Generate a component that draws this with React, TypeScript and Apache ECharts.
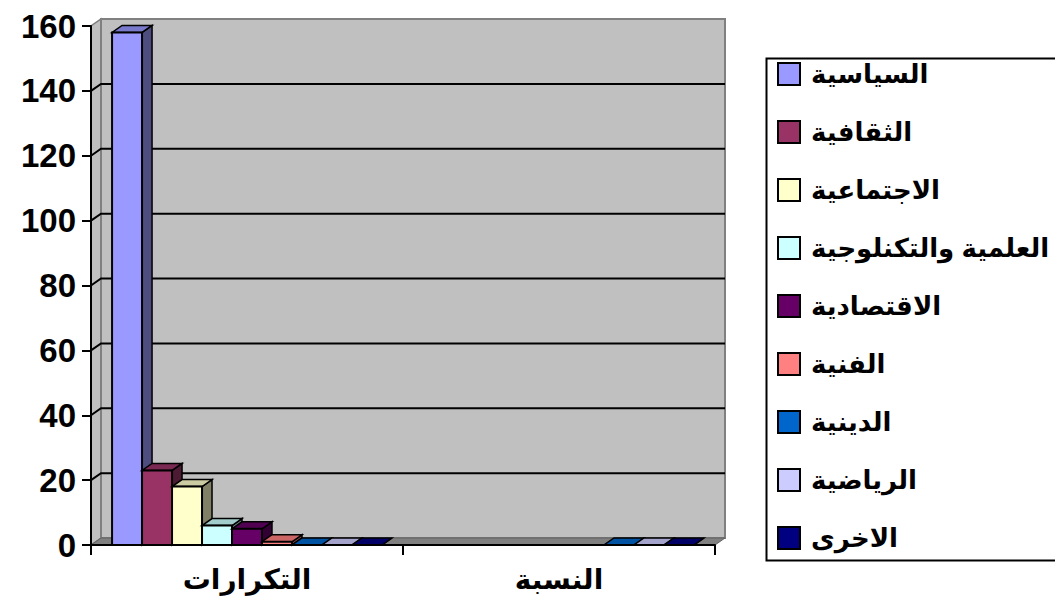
import React, { useEffect, useRef } from "react";
import * as echarts from "echarts";

const categories = ["التكرارات", "النسبة"];
const seriesNames = [
  "السياسية",
  "الثقافية",
  "الاجتماعية",
  "العلمية والتكنلوجية",
  "الاقتصادية",
  "الفنية",
  "الدينية",
  "الرياضية",
  "الاخرى",
];
const frequencies = [158, 23, 18, 6, 5, 1, 0, 0, 0];
const percentages: (number | null)[] = [null, null, null, null, null, null, 0, 0, 0];
const colors = ["#9999FF", "#993366", "#FFFFCC", "#CCFFFF", "#660066", "#FF8080", "#0066CC", "#CCCCFF", "#000080"];
const yTicks = [0, 20, 40, 60, 80, 100, 120, 140, 160];

const DX = 10;
const DY = -7;
const FONT = "Arial, 'Liberation Sans', 'DejaVu Sans', sans-serif";

function shade(hex: string, f: number) {
  const n = parseInt(hex.slice(1), 16);
  const r = Math.round(((n >> 16) & 255) * f);
  const g = Math.round(((n >> 8) & 255) * f);
  const b = Math.round((n & 255) * f);
  return `rgb(${r},${g},${b})`;
}

export default function App() {
  const ref = useRef<HTMLDivElement>(null);
  useEffect(() => {
    if (!ref.current) return;
    const chart = echarts.init(ref.current, null, { renderer: "svg" });
    const n = seriesNames.length;

    const wallSeries: any = {
      type: "custom",
      name: "__wall",
      z: 1,
      silent: true,
      data: [[0, 0]],
      renderItem: (params: any, api: any) => {
        const cs = params.coordSys;
        const left = cs.x;
        const right = cs.x + cs.width;
        const top = cs.y;
        const bottom = cs.y + cs.height;
        const children: any[] = [];
        children.push({
          type: "polygon",
          shape: { points: [[left, bottom], [left, top], [left + DX, top + DY], [left + DX, bottom + DY]] },
          style: { fill: "#C0C0C0", stroke: "#808080", lineWidth: 1.5 },
        });
        children.push({
          type: "rect",
          shape: { x: left + DX, y: top + DY, width: right - left, height: bottom - top },
          style: { fill: "#C0C0C0", stroke: "#808080", lineWidth: 2 },
        });
        children.push({
          type: "polygon",
          shape: { points: [[left, bottom], [right, bottom], [right + DX, bottom + DY], [left + DX, bottom + DY]] },
          style: { fill: "#808080", stroke: "#606060", lineWidth: 1 },
        });
        yTicks.forEach((t) => {
          if (t === 0 || t === yTicks[yTicks.length - 1]) return;
          const y = api.coord([0, t])[1];
          children.push({
            type: "polyline",
            shape: { points: [[left, y], [left + DX, y + DY], [right + DX, y + DY]] },
            style: { stroke: "#000", lineWidth: 2, fill: "none" },
          });
        });
        return { type: "group", children };
      },
    };

    const barSeries = seriesNames.map((name, i) => {
      const data: any[] = [];
      if (frequencies[i] !== null) data.push([0, frequencies[i]]);
      if (percentages[i] !== null) data.push([1, percentages[i]]);
      return {
        type: "custom",
        name,
        z: 3 + i,
        itemStyle: { color: colors[i] },
        data,
        renderItem: (params: any, api: any) => {
          const cat = api.value(0);
          const v = api.value(1);
          if (v === null || v === undefined || isNaN(v)) return null;
          const base = api.coord([cat, 0]);
          const tp = api.coord([cat, v]);
          const band = api.size([1, 0])[0];
          const bw = (band * 0.865) / n;
          const x0 = base[0] - (bw * n) / 2 + i * bw;
          const x1 = x0 + bw;
          const yb = base[1];
          const yt = tp[1];
          const c = colors[i];
          return {
            type: "group",
            children: [
              {
                type: "polygon",
                shape: { points: [[x1, yt], [x1 + DX, yt + DY], [x1 + DX, yb + DY], [x1, yb]] },
                style: { fill: shade(c, 0.5), stroke: "#000", lineWidth: 1.5 },
              },
              {
                type: "polygon",
                shape: { points: [[x0, yt], [x1, yt], [x1 + DX, yt + DY], [x0 + DX, yt + DY]] },
                style: { fill: shade(c, 0.8), stroke: "#000", lineWidth: 1.5 },
              },
              {
                type: "rect",
                shape: { x: x0, y: yt, width: bw, height: yb - yt },
                style: { fill: c, stroke: "#000", lineWidth: 2 },
              },
            ],
          };
        },
      };
    });

    chart.setOption({
      animation: false,
      backgroundColor: "#FFFFFF",
      grid: { left: 91, right: 340, top: 26, bottom: 57, containLabel: false },
      xAxis: {
        type: "category",
        data: categories,
        z: 20,
        axisLine: { show: true, lineStyle: { color: "#000", width: 2 } },
        axisTick: { show: true, length: 10, lineStyle: { color: "#000", width: 2 } },
        axisLabel: { fontSize: 28, fontWeight: "bold", color: "#000", fontFamily: FONT, margin: 20 },
        splitLine: { show: false },
      },
      yAxis: {
        type: "value",
        min: 0,
        max: 160,
        interval: 20,
        z: 20,
        axisLine: { show: true, lineStyle: { color: "#000", width: 2 } },
        axisTick: { show: true, length: 9, lineStyle: { color: "#000", width: 2 } },
        axisLabel: { fontSize: 33, fontWeight: "bold", color: "#000", fontFamily: FONT, margin: 15 },
        splitLine: { show: false },
      },
      legend: {
        orient: "vertical",
        left: 777,
        top: 61,
        padding: 0,
        itemWidth: 22,
        itemHeight: 22,
        itemGap: 32,
        icon: "rect",
        data: seriesNames,
        selectedMode: false,
        itemStyle: { borderColor: "#000", borderWidth: 2 },
        textStyle: {
          fontSize: 26,
          fontWeight: "bold",
          color: "#000",
          fontFamily: FONT,
          padding: [0, 0, 0, 6],
        },
      },
      graphic: [
        {
          type: "rect",
          left: 764,
          top: 56,
          shape: { width: 400, height: 502 },
          style: { fill: "none", stroke: "#000", lineWidth: 2 },
          z: 0,
        },
      ],
      series: [wallSeries, ...barSeries],
    });
    return () => chart.dispose();
  }, []);
  return <div ref={ref} style={{ position: "fixed", left: 0, top: 0, width: 1055, height: 602 }} />;
}
